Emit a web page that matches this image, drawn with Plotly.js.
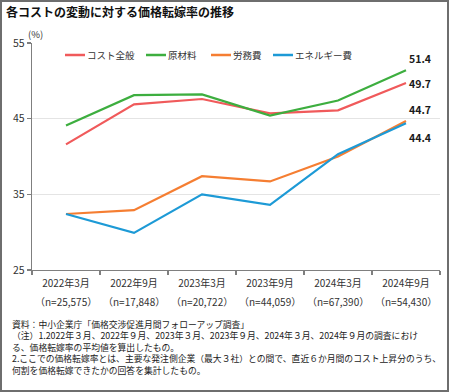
<!DOCTYPE html>
<html>
<head>
<meta charset="utf-8">
<script src="https://cdn.plot.ly/plotly-3.0.1.min.js"></script>
<style>
  html, body { margin: 0; padding: 0; background: #fff; }
  #wrap { position: relative; width: 449px; height: 392px; }
  #chart { width: 449px; height: 392px; }
  #frame { position: absolute; left: 0; top: 0; width: 449px; height: 392px; box-sizing: border-box; border: 2px solid #6e6e6e; pointer-events: none; }
</style>
</head>
<body>
<div id="wrap"><div id="chart"></div><div id="frame"></div></div>
<script>
const categories = ["2022年3月", "2022年9月", "2023年3月", "2023年9月", "2024年3月", "2024年9月"];
const sampleSizes = ["（n=25,575）", "（n=17,848）", "（n=20,722）", "（n=44,059）", "（n=67,390）", "（n=54,430）"];
const seriesNames = ["コスト全般", "原材料", "労務費", "エネルギー費"];
const costAll = [41.6, 46.9, 47.6, 45.7, 46.1, 49.7];
const materials = [44.1, 48.1, 48.2, 45.4, 47.4, 51.4];
const labor = [32.4, 32.9, 37.4, 36.7, 40.0, 44.7];
const energy = [32.4, 29.9, 35.0, 33.6, 40.3, 44.4];
const titleText = "各コストの変動に対する価格転嫁率の推移";
const unitText = "(%)";
const footnotes = [
  "資料：中小企業庁「価格交渉促進月間フォローアップ調査」",
  "（注）1.2022年３月、2022年９月、2023年３月、2023年９月、2024年３月、2024年９月の調査におけ",
  "る、価格転嫁率の平均値を算出したもの。",
  "2.ここでの価格転嫁率とは、主要な発注側企業（最大３社）との間で、直近６か月間のコスト上昇分のうち、",
  "何割を価格転嫁できたかの回答を集計したもの。"
];

const colors = ["#F05A5B", "#3DAE3F", "#F57E32", "#1D9AD6"];
const allSeries = [costAll, materials, labor, energy];
const endShift = [0, 12, 11, -14.5];
const legendX = [65, 146, 211, 273];
const FONT = "'Noto Sans CJK JP', 'Noto Sans', sans-serif";

const traces = allSeries.map((vals, i) => ({
  type: "scatter", mode: "lines",
  x: categories, y: vals, name: seriesNames[i],
  line: { color: colors[i], width: 2.2 },
  hoverinfo: "skip", showlegend: false
}));

const W = 449, H = 392, L = 32, R = 9, T = 43, B = 122;
const pw = W - L - R, ph = H - T - B;
const px2x = p => (p - L) / pw;
const py2y = p => (H - B - p) / ph;

const annotations = [];
const shapes = [];
// legend (custom, compact like the reference)
seriesNames.forEach((n, i) => {
  shapes.push({
    type: "line", xref: "paper", yref: "paper",
    x0: px2x(legendX[i]), x1: px2x(legendX[i] + 20), y0: py2y(55), y1: py2y(55),
    line: { color: colors[i], width: 2.5 }
  });
  annotations.push({
    x: px2x(legendX[i] + 21), y: py2y(55), xref: "paper", yref: "paper",
    text: n, showarrow: false, xanchor: "left", yanchor: "middle", borderpad: 0,
    font: { family: FONT, size: 9.5, color: "#333" }
  });
});
// end value labels
allSeries.forEach((vals, i) => {
  const last = vals.length - 1;
  annotations.push({
    x: categories[last], y: vals[last], xref: "x", yref: "y",
    text: "<b>" + vals[last].toFixed(1) + "</b>", showarrow: false,
    xanchor: "left", yanchor: "middle", xshift: 1, yshift: endShift[i],
    font: { family: FONT, size: 10.5, color: "#1a1a1a" }
  });
});
// sample sizes row
sampleSizes.forEach((s, i) => {
  annotations.push({
    x: categories[i], y: py2y(301.5), xref: "x", yref: "paper",
    text: s, showarrow: false, xanchor: "center", yanchor: "middle",
    font: { family: FONT, size: 10, color: "#333" }
  });
});
// unit label
annotations.push({
  x: px2x(26), y: py2y(34), xref: "paper", yref: "paper", text: unitText,
  showarrow: false, xanchor: "left", yanchor: "middle",
  font: { family: FONT, size: 9.5, color: "#333" }
});
// footnotes
annotations.push({
  x: px2x(11), y: py2y(347.5), xref: "paper", yref: "paper", text: footnotes.join("<br>"),
  showarrow: false, xanchor: "left", yanchor: "middle", align: "left", borderpad: 0,
  font: { family: FONT, size: 8.8, color: "#222" }
});

const layout = {
  width: W, height: H,
  margin: { l: L, r: R, t: T, b: B },
  paper_bgcolor: "#fff", plot_bgcolor: "#fff",
  font: { family: FONT, color: "#333" },
  title: {
    text: "<b>" + titleText + "</b>", xref: "container", yref: "container",
    x: 6 / W, xanchor: "left", y: 1 - 13 / H, yanchor: "middle",
    font: { family: FONT, size: 12, color: "#111" }
  },
  showlegend: false,
  xaxis: {
    type: "category", range: [-0.5, 5.5], tickson: "boundaries",
    showline: true, linecolor: "#7f7f7f", linewidth: 1.3,
    ticks: "outside", ticklen: 4, tickcolor: "#7f7f7f", tickwidth: 1.3,
    showgrid: false, zeroline: false, ticklabelstandoff: 4,
    tickfont: { family: FONT, size: 10, color: "#333" },
    tickvals: categories, ticktext: categories
  },
  yaxis: {
    range: [25, 55], dtick: 10, tick0: 25,
    showline: true, linecolor: "#7f7f7f", linewidth: 1.3,
    ticks: "outside", ticklen: 4, tickcolor: "#7f7f7f", tickwidth: 1.3,
    showgrid: true, gridcolor: "#e4e4e4", gridwidth: 1.5, zeroline: false,
    tickfont: { family: FONT, size: 10.5, color: "#333" }
  },
  shapes: shapes,
  annotations: annotations
};

Plotly.newPlot("chart", traces, layout, { displayModeBar: false, staticPlot: true });
</script>
</body>
</html>
